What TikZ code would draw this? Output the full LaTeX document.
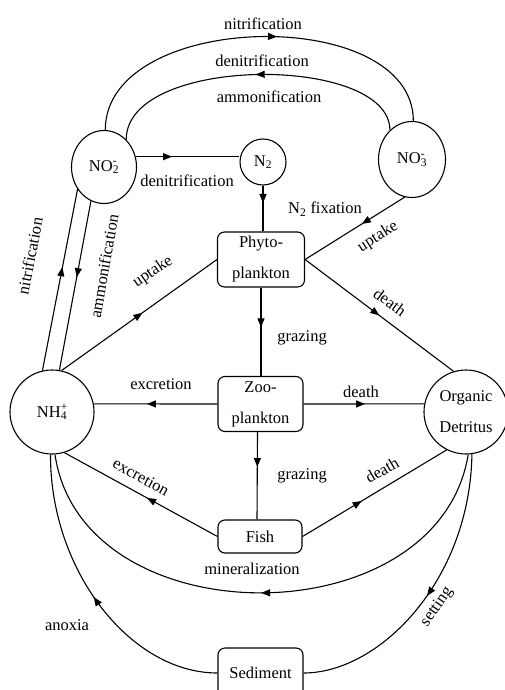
\documentclass[tikz,border=0pt]{standalone}
\usepackage{fontspec}
\setmainfont{Liberation Serif}
\usetikzlibrary{arrows.meta,decorations.markings,shapes.geometric,calc}
\tikzset{
  midarr/.style={postaction={decorate,decoration={markings,mark=at position #1 with {\arrow{Triangle[length=9pt,width=7pt]}}}}},
  pool/.style={draw,ellipse,inner sep=0pt,align=center,line width=1.1pt},
  boxnode/.style={draw,rectangle,rounded corners=7pt,inner sep=0pt,align=center,line width=1.1pt},
  lab/.style={inner sep=1pt},
  conn/.style={line width=1.1pt}
}
\begin{document}
\begin{tikzpicture}[x=1pt,y=-1pt,font=\fontsize{16.5}{31}\selectfont]
\fill[white] (0,0) rectangle (504,690);
\useasboundingbox (0,0) rectangle (504,690);
% pools
\node[pool,minimum width=65pt,minimum height=73pt] (no2) at (104,167) {NO\rlap{\textsuperscript{-}}\textsubscript{2}};
\node[pool,minimum width=46pt,minimum height=46pt] (n2) at (263,162) {N\textsubscript{2}};
\node[pool,minimum width=67pt,minimum height=76pt] (no3) at (412,159.5) {NO\rlap{\textsuperscript{-}}\textsubscript{3}};
\node[pool,minimum width=84pt,minimum height=84pt] (nh4) at (52,412) {NH\rlap{\textsuperscript{+}}\textsubscript{4}};
\node[pool,minimum width=84pt,minimum height=84pt] (det) at (466,412) {Organic\\Detritus};
% boxes
\node[boxnode,minimum width=87pt,minimum height=55pt] (phyto) at (261,259.5) {Phyto-\\plankton};
\node[boxnode,minimum width=85pt,minimum height=55pt] (zoo) at (260.5,404) {Zoo-\\plankton};
\node[boxnode,minimum width=84pt,minimum height=33pt] (fish) at (260,536.5) {Fish};
\node[boxnode,minimum width=85pt,minimum height=50pt] (sed) at (260.5,673) {Sediment};
% connectors
\begin{scope}[conn]
\draw[midarr=0.55] (no2.88) .. controls +(0,-120) and +(0,-117) .. (no3.88);
\draw[midarr=0.5] (no3.127) .. controls +(0,-76) and +(0,-85) .. (no2.51);
\draw[midarr=0.35] (no2.18) -- (no2.18 -| n2.west);
\draw[midarr=0.38] (n2.south) -- (n2.south |- phyto.north);
\draw[midarr=0.43] (no3.259) -- (phyto.east);
\draw[midarr=0.52] (nh4.77) -- (phyto.west);
\draw[midarr=0.50] (phyto.east) -- (det.107);
\draw[midarr=0.45] (phyto.south) -- (phyto.south |- zoo.north);
\draw[midarr=0.57] (zoo.west) -- (nh4.11);
\draw[midarr=0.51] (zoo.east) -- (det.169);
\draw[midarr=0.40] ([xshift=-3pt]zoo.south) -- ([xshift=-3pt]fish.north);
\draw[midarr=0.46] (fish.west) -- (nh4.-73);
\draw[midarr=0.41] (fish.east) -- (det.243);
\draw[midarr=0.57] (nh4.103) -- (no2.220);
\draw[midarr=0.45] (no2.249) -- (nh4.80);
\draw[midarr=0.5] (det.-87) .. controls (438,639) and (82,639) .. (nh4.-86);
\draw[midarr=0.5] (det.-82) .. controls (470,580) and (380,673) .. (sed.east);
\draw[midarr=0.5] (sed.west) .. controls (130,673) and (50,570) .. (nh4.-92);
\end{scope}
% labels
\node[lab] (t1) at (263,24) {nitrification};
\node[lab] (t2) at (262,61) {denitrification};
\node[lab] (t3) at (269,97) {ammonification};
\node[lab] (t4) at (187,181) {denitrification};
\node[lab] (t5) at (325,209) {N\textsubscript{2} fixation};
\node[lab,rotate=32] (t6) at (378,237) {uptake};
\node[lab,rotate=34] (t7) at (153,272) {uptake};
\node[lab,rotate=-36] (t8) at (390,302) {death};
\node[lab] (t9) at (302,338) {grazing};
\node[lab] (t10) at (161,384) {excretion};
\node[lab] (t11) at (361,392) {death};
\node[lab] (t12) at (302,476) {grazing};
\node[lab,rotate=-29] (t13) at (141,477) {excretion};
\node[lab,rotate=30] (t14) at (382,470) {death};
\node[lab,rotate=79] (t15) at (30,256) {nitrification};
\node[lab,rotate=80] (t16) at (104,266) {ammonification};
\node[lab] (t17) at (252,569) {mineralization};
\node[lab,rotate=55] (t18) at (437,607) {setting};
\node[lab] (t19) at (67,625) {anoxia};
\end{tikzpicture}
\end{document}
